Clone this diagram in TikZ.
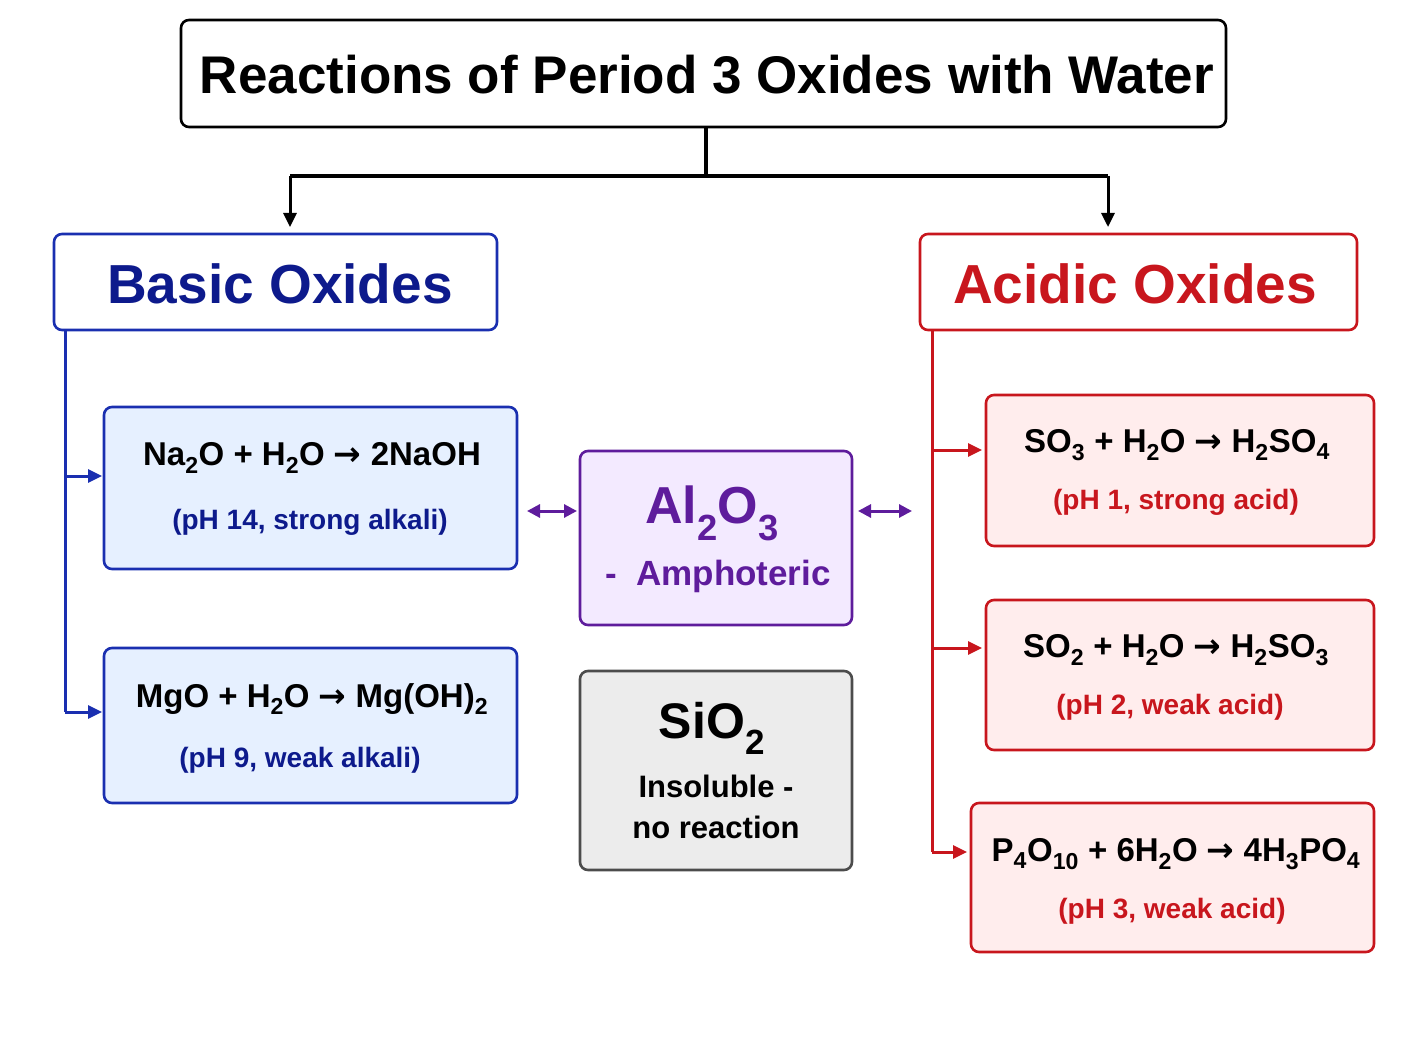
\documentclass[tikz,border=0pt]{standalone}
\usepackage{fontspec}
\setmainfont{Liberation Sans}
\newfontfamily\arrf{DejaVu Sans}
\usetikzlibrary{arrows.meta}
\definecolor{bblue}{HTML}{1A2FB0}
\definecolor{btext}{HTML}{0D1A8C}
\definecolor{bfill}{HTML}{E6F0FF}
\definecolor{rred}{HTML}{C8161D}
\definecolor{rfill}{HTML}{FFEDED}
\definecolor{ppur}{HTML}{5E1C9C}
\definecolor{pfill}{HTML}{F3EAFF}
\definecolor{gfill}{HTML}{ECECEC}
\newcommand{\sbs}[1]{\textsubscript{#1}}
\newcommand{\ar}{{\arrf\bfseries →}}
\newcommand{\eqf}{\fontsize{33}{38}\selectfont\bfseries}
\newcommand{\phf}{\fontsize{28}{32}\selectfont\bfseries}
\tikzset{
 box/.style={draw, rounded corners=8pt, line width=2.6pt, inner sep=0pt},
 conn/.style={line width=3pt, -{Triangle[length=14pt,width=13pt]}},
 dbl/.style={line width=3pt, {Triangle[length=13pt,width=13pt]}-{Triangle[length=13pt,width=13pt]}},
}
\begin{document}
\begin{tikzpicture}[x=1pt,y=-1pt]
\useasboundingbox (0,0) rectangle (1408,1056);
% title
\draw[box, black, fill=white] (181,20) rectangle (1226,127);
\node (title) at (707,75) {\fontsize{53}{58}\selectfont\bfseries Reactions of Period 3 Oxides with Water};
\coordinate (tb) at (706,127);
\coordinate (tl) at (290,176);
\coordinate (tr) at (1108,176);
% basic/acid headers
\draw[box, bblue, fill=white] (54,234) rectangle (497,330);
\node[text=btext] (basic) at (280,284) {\fontsize{55}{60}\selectfont\bfseries Basic Oxides};
\draw[box, rred, fill=white] (920,234) rectangle (1357,330);
\node[text=rred] (acid) at (1135,284) {\fontsize{55}{60}\selectfont\bfseries Acidic Oxides};
\coordinate (bt) at (290,227);
\coordinate (at) at (1108,227);
\draw[line width=3.2pt] (tb) |- (tl);
\draw[line width=3.2pt] (tb) |- (tr);
\draw[conn] (tl) -- (bt);
\draw[conn] (tr) -- (at);
% basic boxes
\draw[box, bblue, fill=bfill] (104,407) rectangle (517,569);
\node (na) at (312,458) {\eqf Na\sbs{2}O + H\sbs{2}O \ar{} 2NaOH};
\node[text=btext] at (310,522) {\phf (pH 14, strong alkali)};
\draw[box, bblue, fill=bfill] (104,648) rectangle (517,803);
\node (mg) at (312,699) {\eqf MgO + H\sbs{2}O \ar{} Mg(OH)\sbs{2}};
\node[text=btext] at (300,760) {\phf (pH 9, weak alkali)};
\coordinate (b0) at (65,330);
\coordinate (b1) at (65,476);
\coordinate (b2) at (65,712);
\draw[bblue, line width=3pt] (b0) -- (b2);
\draw[conn, bblue] (b1) -- (102,476);
\draw[conn, bblue] (b2) -- (102,712);
% Al2O3
\draw[box, ppur, fill=pfill] (580,451) rectangle (852,625);
\node[text=ppur] (al) at (712,513) {\fontsize{52}{58}\selectfont\bfseries Al\sbs{2}O\sbs{3}};
\node[text=ppur] at (718,576) {\fontsize{35}{40}\selectfont\bfseries -\ \ Amphoteric};
\draw[ppur, dbl] (527,511) -- (577,511);
\draw[ppur, dbl] (858,511) -- (912,511);
% SiO2
\draw[box, black!70, fill=gfill] (580,671) rectangle (852,870);
\node (si) at (712,728) {\fontsize{50}{56}\selectfont\bfseries SiO\sbs{2}};
\node[align=center, font=\fontsize{31}{41}\selectfont\bfseries] at (716,807) {Insoluble -\\no reaction};
% acid boxes
\draw[box, rred, fill=rfill] (986,395) rectangle (1374,546);
\node (s3) at (1177,445) {\eqf SO\sbs{3} + H\sbs{2}O \ar{} H\sbs{2}SO\sbs{4}};
\node[text=rred] at (1176,502) {\phf (pH 1, strong acid)};
\draw[box, rred, fill=rfill] (986,600) rectangle (1374,750);
\node (s2) at (1176,650) {\eqf SO\sbs{2} + H\sbs{2}O \ar{} H\sbs{2}SO\sbs{3}};
\node[text=rred] at (1170,707) {\phf (pH 2, weak acid)};
\draw[box, rred, fill=rfill] (971,803) rectangle (1374,952);
\node (p4) at (1176,854) {\eqf P\sbs{4}O\sbs{10} + 6H\sbs{2}O \ar{} 4H\sbs{3}PO\sbs{4}};
\node[text=rred] at (1172,911) {\phf (pH 3, weak acid)};
\coordinate (a0) at (932,330);
\coordinate (a1) at (932,450);
\coordinate (a2) at (932,648);
\coordinate (a3) at (932,852);
\draw[rred, line width=3pt] (a0) -- (a3);
\draw[conn, rred] (a1) -- (982,450);
\draw[conn, rred] (a2) -- (982,648);
\draw[conn, rred] (a3) -- (967,852);
\end{tikzpicture}
\end{document}
